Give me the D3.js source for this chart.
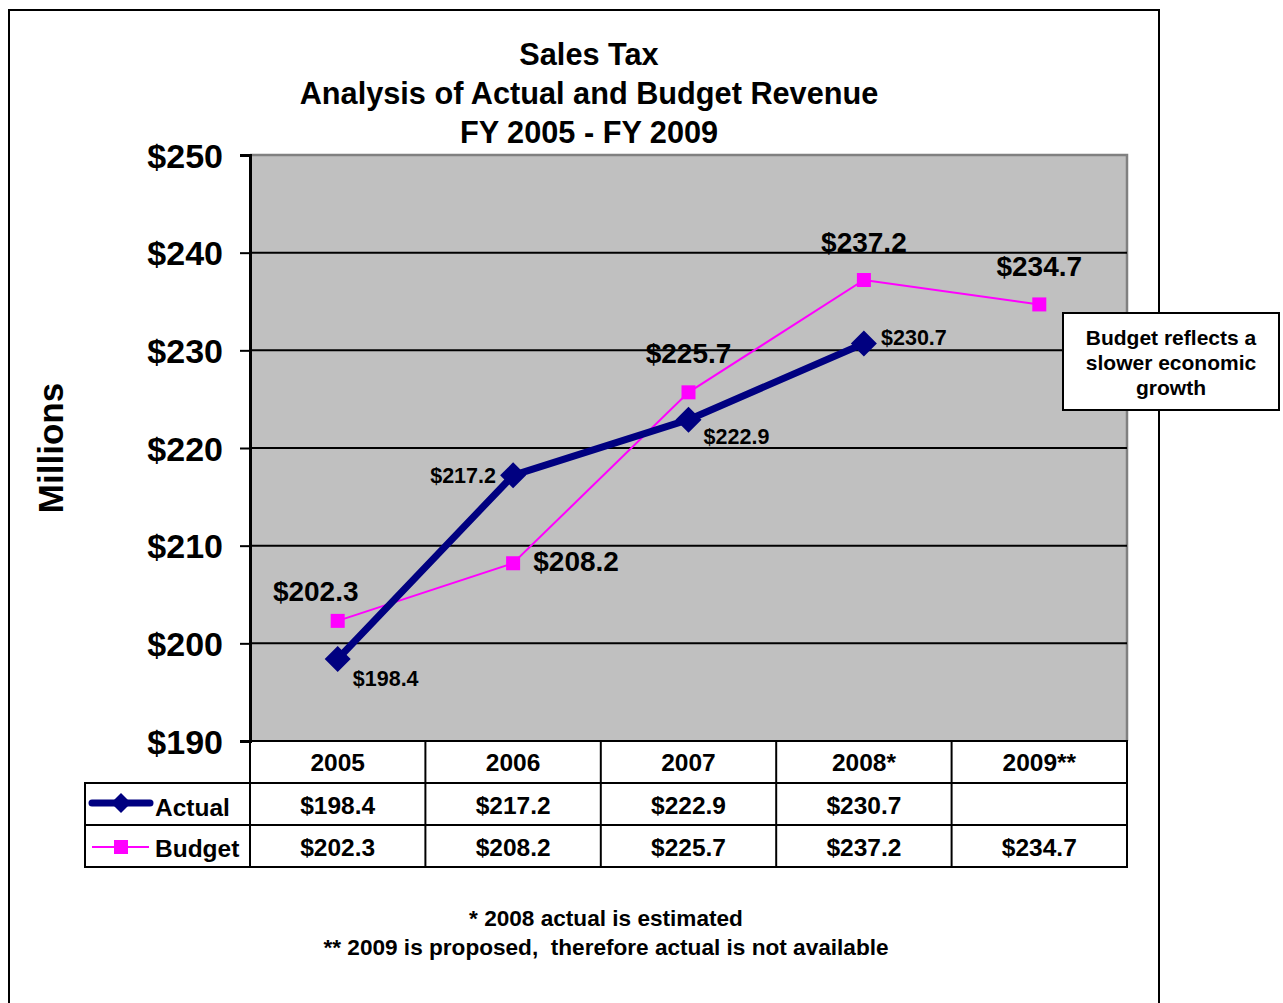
<!DOCTYPE html>
<html>
<head>
<meta charset="utf-8">
<script src="https://cdn.jsdelivr.net/npm/d3@7"></script>
<style>
  html, body { margin: 0; padding: 0; background: #fff; }
  svg { display: block; font-family: "Liberation Sans", Arial, sans-serif; font-weight: bold; }
  text { white-space: pre; }
</style>
</head>
<body>
<svg id="chart" width="1283" height="1003"></svg>
<script>
// データ
const years = ["2005", "2006", "2007", "2008*", "2009**"];
const actualValues = [198.4, 217.2, 222.9, 230.7, null];
const budgetValues = [202.3, 208.2, 225.7, 237.2, 234.7];
const yTicks = [190, 200, 210, 220, 230, 240, 250];
const titleLines = ["Sales Tax", "Analysis of Actual and Budget Revenue", "FY 2005 - FY 2009"];
const footnotes = ["* 2008 actual is estimated", "** 2009 is proposed,  therefore actual is not available"];
const calloutLines = ["Budget reflects a", "slower economic", "growth"];

// レイアウト
const PLOT = { left: 250, right: 1127, top: 155, bottom: 741 };
const ROW_H = 42;
const COLORS = { actual: "#000080", budget: "#ff00ff", plotBg: "#c0c0c0", plotBorder: "#808080" };
const FONT = "'Liberation Sans', Arial, sans-serif";

const svg = d3.select("#chart");
const fmt = v => "$" + d3.format(".1f")(v);

const x = d3.scaleBand().domain(years).range([PLOT.left, PLOT.right]);
const y = d3.scaleLinear().domain([190, 250]).range([PLOT.bottom, PLOT.top]);
const cx = d => x(d) + x.bandwidth() / 2;

// 外枠
svg.append("path")
    .attr("d", "M9,1010 V10 H1159 V1010")
    .attr("fill", "none").attr("stroke", "#000").attr("stroke-width", 2);

// タイトル
svg.append("g").selectAll("text").data(titleLines).join("text")
    .attr("x", 589).attr("y", (d, i) => 65 + i * 39)
    .attr("text-anchor", "middle").attr("font-size", 30.7).text(d => d);

// プロット領域
svg.append("rect")
    .attr("x", PLOT.left).attr("y", PLOT.top)
    .attr("width", PLOT.right - PLOT.left).attr("height", PLOT.bottom - PLOT.top)
    .attr("fill", COLORS.plotBg);
svg.append("path")
    .attr("d", `M${PLOT.left},${PLOT.top} H${PLOT.right} V${PLOT.bottom}`)
    .attr("fill", "none").attr("stroke", COLORS.plotBorder).attr("stroke-width", 2.5);

// グリッド線
svg.append("g").selectAll("line").data(yTicks.filter(t => t > 190 && t < 250)).join("line")
    .attr("x1", PLOT.left).attr("x2", PLOT.right)
    .attr("y1", d => y(d)).attr("y2", d => y(d))
    .attr("stroke", "#000").attr("stroke-width", 2);

// Y軸
const yAxis = svg.append("g")
    .attr("transform", `translate(${PLOT.left},0)`)
    .call(d3.axisLeft(y).tickValues(yTicks).tickSize(10).tickPadding(17).tickFormat(d => "$" + d));
yAxis.select(".domain").attr("stroke", "#000").attr("stroke-width", 3);
yAxis.selectAll(".tick line").attr("stroke", "#000").attr("stroke-width", 2);
yAxis.selectAll(".tick text")
    .attr("font-size", 34).attr("font-family", FONT)
    .attr("font-weight", "bold").attr("fill", "#000").attr("dy", "0.36em");

svg.append("text")
    .attr("transform", "translate(63,448) rotate(-90)")
    .attr("text-anchor", "middle").attr("font-size", 35).text("Millions");

// 系列データ
const actualPts = years.map((yr, i) => ({ yr, v: actualValues[i] })).filter(d => d.v != null);
const budgetPts = years.map((yr, i) => ({ yr, v: budgetValues[i] })).filter(d => d.v != null);
const line = d3.line().x(d => cx(d.yr)).y(d => y(d.v));

svg.append("path").datum(budgetPts).attr("d", line)
    .attr("fill", "none").attr("stroke", COLORS.budget).attr("stroke-width", 2);
svg.append("path").datum(actualPts).attr("d", line)
    .attr("fill", "none").attr("stroke", COLORS.actual).attr("stroke-width", 7)
    .attr("stroke-linejoin", "round");

const diamond = s => `M0,${-s} L${s},0 L0,${s} L${-s},0 Z`;
svg.append("g").selectAll("path").data(actualPts).join("path")
    .attr("transform", d => `translate(${cx(d.yr)},${y(d.v)})`)
    .attr("d", diamond(13)).attr("fill", COLORS.actual);
svg.append("g").selectAll("rect").data(budgetPts).join("rect")
    .attr("x", d => cx(d.yr) - 7).attr("y", d => y(d.v) - 7)
    .attr("width", 14).attr("height", 14).attr("fill", COLORS.budget);

// データラベル（マーカーからのオフセット）
const budgetLabelOffset = [[-22, -30], [63, -2], [0, -39], [0, -38], [0, -39]];
const actualLabelOffset = [[48, 19], [-50, 0], [48, 17], [50, -6], [0, 0]];
svg.append("g").selectAll("text").data(budgetPts).join("text")
    .attr("x", (d, i) => cx(d.yr) + budgetLabelOffset[i][0])
    .attr("y", (d, i) => y(d.v) + budgetLabelOffset[i][1])
    .attr("text-anchor", "middle").attr("dy", "0.36em").attr("font-size", 28)
    .text(d => fmt(d.v));
svg.append("g").selectAll("text").data(actualPts).join("text")
    .attr("x", (d, i) => cx(d.yr) + actualLabelOffset[i][0])
    .attr("y", (d, i) => y(d.v) + actualLabelOffset[i][1])
    .attr("text-anchor", "middle").attr("dy", "0.36em").attr("font-size", 21.5)
    .text(d => fmt(d.v));

// データテーブル
const tbl = svg.append("g");
const rowsY = [PLOT.bottom, PLOT.bottom + ROW_H, PLOT.bottom + ROW_H * 2];
tbl.selectAll("text.hdr").data(years).join("text").attr("class", "hdr")
    .attr("x", d => cx(d)).attr("y", rowsY[0] + ROW_H / 2)
    .attr("text-anchor", "middle").attr("dy", "0.36em").attr("font-size", 24.5).text(d => d);
[actualValues, budgetValues].forEach((vals, r) => {
    tbl.append("g").selectAll("text").data(years).join("text")
        .attr("x", d => cx(d)).attr("y", rowsY[r + 1] + ROW_H / 2 + 1)
        .attr("text-anchor", "middle").attr("dy", "0.36em").attr("font-size", 24.5)
        .text((d, i) => vals[i] == null ? "" : fmt(vals[i]));
});
const tblLines = [];
tblLines.push([PLOT.left, rowsY[0], PLOT.right, rowsY[0]]);
tblLines.push([85, rowsY[1], PLOT.right, rowsY[1]]);
tblLines.push([85, rowsY[2], PLOT.right, rowsY[2]]);
tblLines.push([85, rowsY[2] + ROW_H, PLOT.right, rowsY[2] + ROW_H]);
tblLines.push([85, rowsY[1], 85, rowsY[2] + ROW_H]);
x.domain().forEach(d => tblLines.push([x(d), rowsY[0], x(d), rowsY[2] + ROW_H]));
tblLines.push([PLOT.right, rowsY[0], PLOT.right, rowsY[2] + ROW_H]);
tbl.selectAll("line").data(tblLines).join("line")
    .attr("x1", d => d[0]).attr("y1", d => d[1]).attr("x2", d => d[2]).attr("y2", d => d[3])
    .attr("stroke", "#000").attr("stroke-width", 2).attr("stroke-linecap", "square");

// 凡例キー
const ly1 = rowsY[1] + ROW_H / 2 - 1, ly2 = rowsY[2] + ROW_H / 2 + 1;
tbl.append("line").attr("x1", 92).attr("x2", 150).attr("y1", ly1).attr("y2", ly1)
    .attr("stroke", COLORS.actual).attr("stroke-width", 7).attr("stroke-linecap", "round");
tbl.append("path").attr("transform", `translate(121,${ly1})`).attr("d", diamond(10)).attr("fill", COLORS.actual);
tbl.append("line").attr("x1", 92).attr("x2", 149).attr("y1", ly2).attr("y2", ly2)
    .attr("stroke", COLORS.budget).attr("stroke-width", 2);
tbl.append("rect").attr("x", 114).attr("y", ly2 - 7).attr("width", 14).attr("height", 14).attr("fill", COLORS.budget);
tbl.append("text").attr("x", 155).attr("y", ly1 + 4).attr("dy", "0.36em").attr("font-size", 24.5).text("Actual");
tbl.append("text").attr("x", 155).attr("y", ly2 + 1).attr("dy", "0.36em").attr("font-size", 24.5).text("Budget");

// 注記ボックス
const box = svg.append("g");
box.append("rect").attr("x", 1063).attr("y", 313).attr("width", 216).attr("height", 97)
    .attr("fill", "#fff").attr("stroke", "#000").attr("stroke-width", 2);
box.selectAll("text").data(calloutLines).join("text")
    .attr("x", 1171).attr("y", (d, i) => 337 + i * 25)
    .attr("text-anchor", "middle").attr("dy", "0.36em").attr("font-size", 21).text(d => d);

// 脚注
svg.append("g").selectAll("text").data(footnotes).join("text")
    .attr("x", 606).attr("y", (d, i) => 918 + i * 29)
    .attr("text-anchor", "middle").attr("dy", "0.36em").attr("font-size", 22.6).text(d => d);
</script>
</body>
</html>
